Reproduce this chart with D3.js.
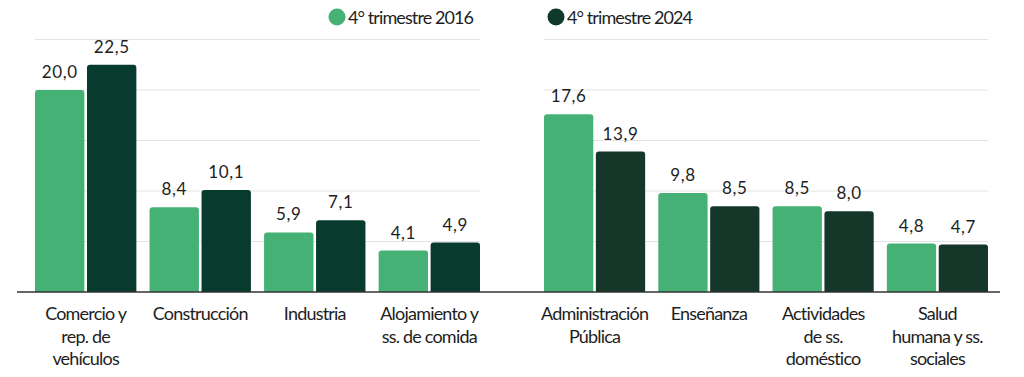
<!DOCTYPE html>
<html>
<head>
<meta charset="utf-8">
<script src="https://cdn.jsdelivr.net/npm/d3@7"></script>
<style>
  body { margin: 0; background: #fff; }
  svg text { font-family: Lato, "Open Sans", sans-serif; }
</style>
</head>
<body>
<div id="chart"></div>
<script>
// Data
let seriesNames = ["4º trimestre 2016", "4º trimestre 2024"];
let leftCategories = [["Comercio y", "rep. de", "vehículos"], ["Construcción"], ["Industria"], ["Alojamiento y", "ss. de comida"]];
let left2016 = [20.0, 8.4, 5.9, 4.1];
let left2024 = [22.5, 10.1, 7.1, 4.9];
let rightCategories = [["Administración", "Pública"], ["Enseñanza"], ["Actividades", "de ss.", "doméstico"], ["Salud", "humana y ss.", "sociales"]];
let right2016 = [17.6, 9.8, 8.5, 4.8];
let right2024 = [13.9, 8.5, 8.0, 4.7];
let yTicks = [0, 5, 10, 15, 20, 25];

let width = 1024, height = 377;
let light = "#46b174";

let svg = d3.select("#chart").append("svg")
  .attr("width", width)
  .attr("height", height);

let yScale = d3.scaleLinear().domain([0, 25]).range([292, 39.5]);

// rounded top corners
function barPath(x, y, w, h, r) {
  r = Math.min(r, h);
  return "M" + x + "," + (y + h) +
    " L" + x + "," + (y + r) +
    " Q" + x + "," + y + " " + (x + r) + "," + y +
    " L" + (x + w - r) + "," + y +
    " Q" + (x + w) + "," + y + " " + (x + w) + "," + (y + r) +
    " L" + (x + w) + "," + (y + h) + " Z";
}

function fmt(v) { return v.toFixed(1).replace(".", ","); }

function drawPanel(categories, v1, v2, x0, x1, darkColor) {
  let g = svg.append("g");
  let idx = d3.range(categories.length);
  let xScale = d3.scaleBand().domain(idx).range([x0, x1]).paddingInner(0.115).paddingOuter(0);
  let sub = d3.scaleBand().domain([0, 1]).range([0, xScale.bandwidth()]).paddingInner(0.05);

  // gridlines
  g.selectAll("line.grid")
    .data(yTicks.filter(d => d > 0))
    .enter().append("line")
    .attr("class", "grid")
    .attr("x1", x0).attr("x2", x1)
    .attr("y1", d => yScale(d)).attr("y2", d => yScale(d))
    .attr("stroke", "#e4e4e4")
    .attr("stroke-width", 1);

  let rows = [];
  idx.forEach(i => {
    rows.push({ i: i, s: 0, v: v1[i], color: light });
    rows.push({ i: i, s: 1, v: v2[i], color: darkColor });
  });

  g.selectAll("path.bar")
    .data(rows)
    .enter().append("path")
    .attr("class", "bar")
    .attr("d", d => barPath(xScale(d.i) + sub(d.s), yScale(d.v), sub.bandwidth(), yScale(0) - yScale(d.v), 3))
    .attr("fill", d => d.color);

  g.selectAll("text.val")
    .data(rows)
    .enter().append("text")
    .attr("class", "val")
    .attr("x", d => xScale(d.i) + sub(d.s) + sub.bandwidth() / 2)
    .attr("y", d => yScale(d.v) - 12)
    .attr("text-anchor", "middle")
    .attr("font-size", 17)
    .attr("letter-spacing", 0.6)
    .attr("fill", "#1e1e1e")
    .text(d => fmt(d.v));

  let labels = g.selectAll("text.cat")
    .data(categories)
    .enter().append("text")
    .attr("class", "cat")
    .attr("x", (d, i) => xScale(i) + xScale.bandwidth() / 2)
    .attr("y", 320)
    .attr("text-anchor", "middle")
    .attr("font-size", 18)
    .attr("letter-spacing", -0.8)
    .attr("fill", "#1e1e1e");
  labels.selectAll("tspan")
    .data(d => d)
    .enter().append("tspan")
    .attr("x", function () { return this.parentNode.getAttribute("x"); })
    .attr("dy", (d, j) => j === 0 ? 0 : 22.5)
    .text(d => d);
}

drawPanel(leftCategories, left2016, left2024, 35, 480, "#063b2d");
drawPanel(rightCategories, right2016, right2024, 544, 988, "#14372a");

// baseline
svg.append("line")
  .attr("x1", 17).attr("x2", 1000)
  .attr("y1", yScale(0)).attr("y2", yScale(0))
  .attr("stroke", "#333")
  .attr("stroke-width", 1.5);

// legend
let legendItems = [
  { name: seriesNames[0], color: light, x: 337 },
  { name: seriesNames[1], color: "#0f3a2b", x: 556 }
];
let legend = svg.selectAll("g.legend")
  .data(legendItems)
  .enter().append("g")
  .attr("class", "legend")
  .attr("transform", d => "translate(" + d.x + ",17)");
legend.append("circle")
  .attr("r", 8.5)
  .attr("fill", d => d.color);
legend.append("text")
  .attr("x", 11)
  .attr("y", 6.5)
  .attr("font-size", 18)
  .attr("letter-spacing", -0.9)
  .attr("fill", "#1e1e1e")
  .text(d => d.name.replace("º", "°"));
</script>
</body>
</html>
